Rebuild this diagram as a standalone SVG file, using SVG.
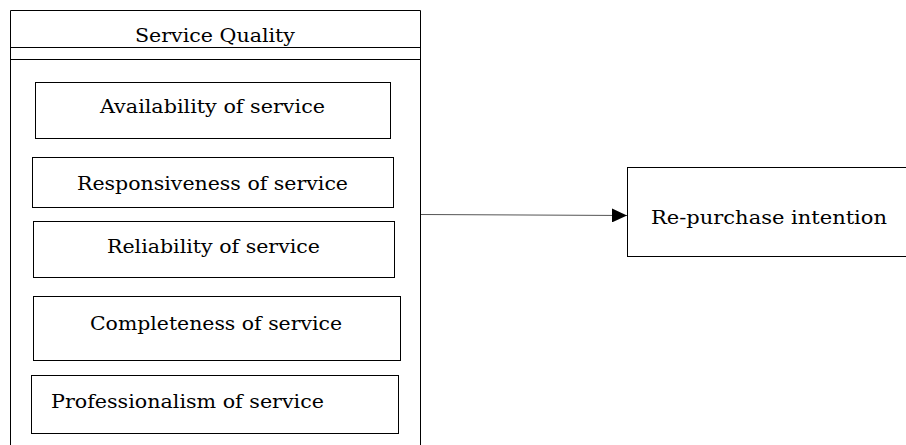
<svg xmlns="http://www.w3.org/2000/svg" width="906" height="445" viewBox="0 0 906 445">
  <style>
    .box { fill: #ffffff; stroke: #000000; stroke-width: 1; }
    .lbl { font-family: "DejaVu Serif", "Liberation Serif", serif; font-size: 19px; fill: #000000; }
    .mid { text-anchor: middle; }
    .conn { stroke: #555555; stroke-width: 1; fill: none; }
  </style>
  <defs>
    <marker id="arrow" markerWidth="15" markerHeight="14" refX="15" refY="7" orient="auto" markerUnits="userSpaceOnUse">
      <path d="M0,0 L15,7 L0,14 Z" fill="#000000"/>
    </marker>
  </defs>
  <rect width="906" height="445" fill="#ffffff"/>

  <!-- Service Quality container -->
  <g id="service-quality">
    <path class="box" d="M10.5,450 V10.5 H420.5 V450" fill="none"/>
    <line class="box" x1="10.5" y1="47.5" x2="420.5" y2="47.5"/>
    <line class="box" x1="10.5" y1="59.5" x2="420.5" y2="59.5"/>
    <text class="lbl" x="135" y="42" textLength="160" lengthAdjust="spacingAndGlyphs">Service Quality</text>
  </g>

  <g id="availability">
    <rect class="box" x="35.5" y="82.5" width="355" height="56"/>
    <text class="lbl" x="100" y="113" textLength="225" lengthAdjust="spacingAndGlyphs">Availability of service</text>
  </g>

  <g id="responsiveness">
    <rect class="box" x="32.5" y="157.5" width="361" height="50"/>
    <text class="lbl" x="77" y="190" textLength="271" lengthAdjust="spacingAndGlyphs">Responsiveness of service</text>
  </g>

  <g id="reliability">
    <rect class="box" x="33.5" y="221.5" width="361" height="56"/>
    <text class="lbl" x="107" y="253" textLength="213" lengthAdjust="spacingAndGlyphs">Reliability of service</text>
  </g>

  <g id="completeness">
    <rect class="box" x="33.5" y="296.5" width="367" height="64"/>
    <text class="lbl" x="90" y="330" textLength="252" lengthAdjust="spacingAndGlyphs">Completeness of service</text>
  </g>

  <g id="professionalism">
    <rect class="box" x="31.5" y="375.5" width="367" height="58"/>
    <text class="lbl" x="51" y="408" textLength="273" lengthAdjust="spacingAndGlyphs">Professionalism of service</text>
  </g>

  <g id="repurchase">
    <rect class="box" x="627.5" y="167.5" width="290" height="89"/>
    <text class="lbl" x="651" y="224" textLength="236" lengthAdjust="spacingAndGlyphs">Re-purchase intention</text>
  </g>

  <g id="connectors">
    <line class="conn" x1="421" y1="214.5" x2="627" y2="215.5" marker-end="url(#arrow)"/>
  </g>
</svg>
